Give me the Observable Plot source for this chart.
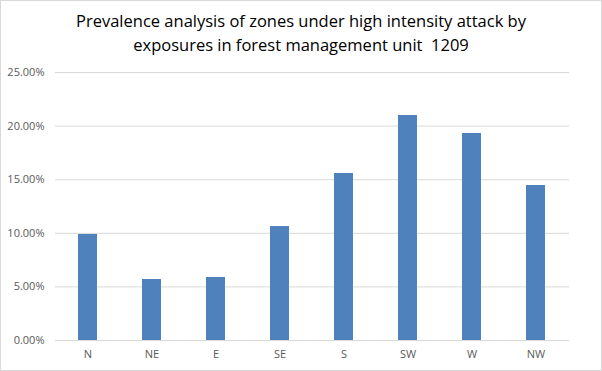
<!DOCTYPE html>
<html>
<head>
<meta charset="utf-8">
<script src="https://cdn.jsdelivr.net/npm/d3@7"></script>
<script src="https://cdn.jsdelivr.net/npm/@observablehq/plot@0.6"></script>
<style>
  html, body { margin: 0; padding: 0; background: #fff; }
  #wrap { box-sizing: border-box; width: 602px; height: 371px; border: 1px solid #d9d9d9; background: #fff; overflow: hidden; }
  #title { height: 61px; box-sizing: border-box; padding-top: 8px; text-align: center; font-family: "Open Sans", sans-serif; font-size: 16.5px; line-height: 24px; color: #000; }
  #chart svg { display: block; }
</style>
</head>
<body>
<div id="wrap">
  <div id="title">Prevalence analysis of zones under high intensity attack by<br>exposures in forest management unit&nbsp; 1209</div>
  <div id="chart"></div>
</div>
<script>
const exposures = ["N", "NE", "E", "SE", "S", "SW", "W", "NW"];
const prevalence = [0.0989, 0.0569, 0.0588, 0.1063, 0.1558, 0.2099, 0.1931, 0.1446];
const yTicks = [0, 0.05, 0.10, 0.15, 0.20, 0.25];

const data = exposures.map((e, i) => ({exposure: e, value: prevalence[i]}));

const chart = Plot.plot({
  width: 600,
  height: 308,
  marginTop: 10,
  marginBottom: 30,
  marginLeft: 54,
  marginRight: 32,
  style: {fontFamily: "'Open Sans', sans-serif", fontSize: "11px", color: "#595959", background: "#fff"},
  x: {domain: exposures, label: null, paddingInner: 0.7, paddingOuter: 0.35, tickSize: 0, tickPadding: 10},
  y: {domain: [0, 0.25], ticks: yTicks, label: null, tickSize: 0, tickPadding: 11, tickFormat: d => (d * 100).toFixed(2) + "%"},
  marks: [
    Plot.ruleY(yTicks, {stroke: "#d9d9d9", strokeWidth: 1, strokeOpacity: 1}),
    Plot.barY(data, {x: "exposure", y: "value", fill: "#4f81bd"})
  ]
});
document.getElementById("chart").appendChild(chart);
</script>
</body>
</html>
